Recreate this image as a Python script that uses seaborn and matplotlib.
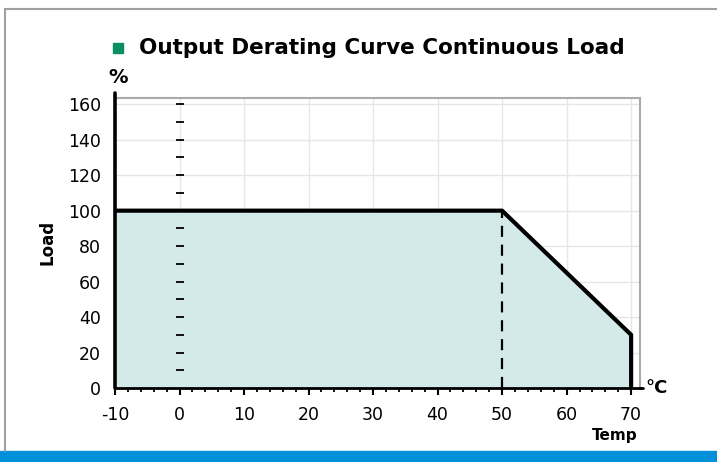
import numpy as np
import pandas as pd
import matplotlib
matplotlib.use("Agg")
import matplotlib.pyplot as plt
import seaborn as sns
from matplotlib.patches import Rectangle
from matplotlib.lines import Line2D

# curva de derating
temp = [-10, 50, 70, 70]
load = [100, 100, 30, 0]
x_ticks = [-10, 0, 10, 20, 30, 40, 50, 60, 70]
y_ticks = [0, 20, 40, 60, 80, 100, 120, 140, 160]
marks_y = [10, 20, 30, 40, 50, 60, 70, 80, 90, 100, 110, 120, 130, 140, 150, 160]
knee_temp = 50
knee_load = 100

sns.set_style("white")
plt.rcParams["font.family"] = ["DejaVu Sans"]
plt.rcParams["axes.unicode_minus"] = False
plt.rcParams["text.color"] = "black"
plt.rcParams["xtick.color"] = "black"
plt.rcParams["ytick.color"] = "black"
plt.rcParams["axes.labelcolor"] = "black"

fig = plt.figure(figsize=(7.17, 4.62), dpi=100)
W, H = 717, 462
ax = fig.add_axes([115 / W, 74 / H, (639.5 - 115) / W, (364.3 - 74) / H])

df = pd.DataFrame({"temp": temp, "load": load})

# relleno bajo la curva
ax.fill_between(df["temp"], df["load"], 0, color="#d4eae9", zorder=1)

# rejilla
for xv in x_ticks[1:]:
    ax.axvline(xv, color="#e6e6e6", lw=1, zorder=0.5)
for yv in y_ticks[1:]:
    ax.axhline(yv, color="#e6e6e6", lw=1, zorder=0.5)

# linea discontinua en el codo
ax.plot([knee_temp, knee_temp], [0, knee_load], color="black", lw=1.6,
        dashes=(5, 3.5), zorder=3)

# marcas en x=0
ax.scatter([0] * len(marks_y), marks_y, marker="_", s=40, color="black",
           linewidths=1.3, zorder=3)

sns.lineplot(data=df, x="temp", y="load", sort=False, estimator=None,
             color="black", lw=3, ax=ax, zorder=4)

ax.set_xlim(-10, 71.3)
ax.set_ylim(0, 163.7)
ax.set_xticks(x_ticks)
ax.set_yticks(y_ticks)
ax.set_xticks(np.arange(-10, 72, 2), minor=True)
ax.tick_params(axis="x", which="both", bottom=True)
ax.tick_params(axis="x", which="major", direction="inout", length=10, width=1.5,
               labelsize=12.5, pad=8, color="black")
ax.tick_params(axis="x", which="minor", direction="inout", length=6, width=1.3,
               color="black")
ax.tick_params(axis="y", length=0, labelsize=12.5, pad=10)

for s in ["top", "right"]:
    ax.spines[s].set_color("#aaaaaa")
    ax.spines[s].set_linewidth(1.5)
ax.spines["bottom"].set_color("black")
ax.spines["bottom"].set_linewidth(2)
ax.spines["left"].set_visible(False)
ax.add_line(Line2D([-10, -10], [0, 166.5], color="black", lw=2.6,
                   clip_on=False, zorder=5))
ax.add_line(Line2D([71.3, 71.8], [0, 0], color="black", lw=2,
                   clip_on=False, zorder=5))

ax.set_xlabel("")
ax.set_ylabel("Load", fontsize=12, fontweight="bold", labelpad=8)
ax.text(-9.5, 170, "%", fontsize=14, fontweight="bold", ha="center", va="bottom")
ax.text(72.2, 0, "°C", fontsize=13, fontweight="bold", ha="left", va="center")
ax.text(71, -27, "Temp", fontsize=11, fontweight="bold", ha="right", va="center")

# titulo con cuadrado verde
fig.patches.append(Rectangle((113 / W, 1 - 53 / H), 10 / W, 10 / H,
                             transform=fig.transFigure, color="#0a8f63"))
fig.text(139 / W, 1 - 48 / H, "Output Derating Curve Continuous Load",
         fontsize=15.5, fontweight="bold", ha="left", va="center")

# marco y barra azul
fig.add_artist(Line2D([5 / W, 1], [1 - 9 / H, 1 - 9 / H], color="#a0a0a0", lw=1.5,
                      transform=fig.transFigure))
fig.add_artist(Line2D([5 / W, 5 / W], [1 - 9 / H, 11 / H], color="#a0a0a0", lw=1.5,
                      transform=fig.transFigure))
fig.patches.append(Rectangle((0, 0), 1, 11 / H, transform=fig.transFigure,
                             color="#0091da"))

fig.savefig("out.png", dpi=100)
